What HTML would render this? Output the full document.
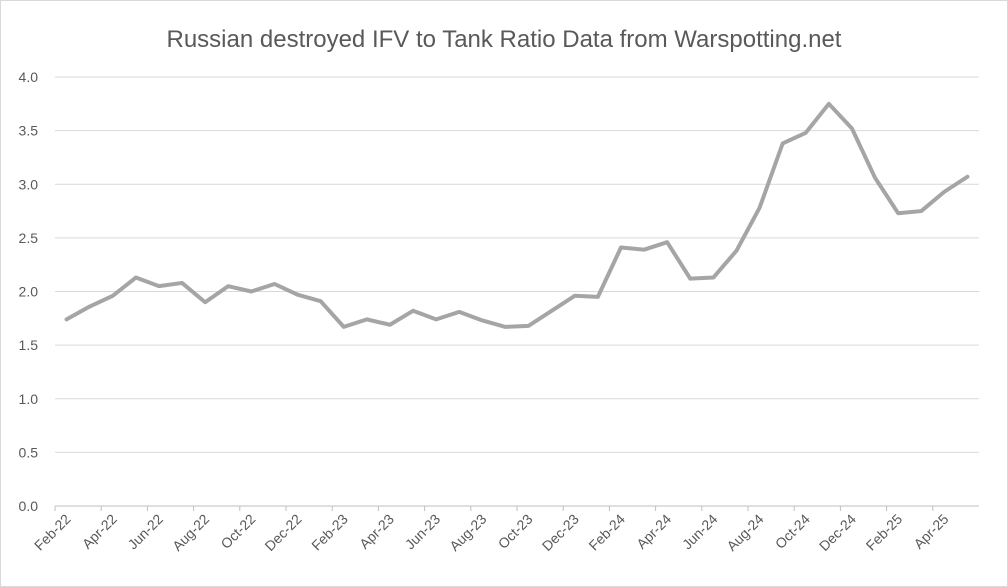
<!DOCTYPE html>
<html><head><meta charset="utf-8"><style>
body{margin:0;background:#fff}
svg{display:block;font-family:"Liberation Sans",Calibri,sans-serif}
</style></head><body>
<svg width="1008" height="587">
<rect x="0.5" y="0.5" width="1007" height="586" fill="#fff" stroke="#d9d9d9"/>
<text x="504" y="47" text-anchor="middle" font-size="24" fill="#595959">Russian destroyed IFV to Tank Ratio Data from Warspotting.net</text>
<g id="grid"></g><g id="yl"></g><g id="xl"></g><g id="ser"></g>
</svg>
<script>
const categories=["Feb-22","Mar-22","Apr-22","May-22","Jun-22","Jul-22","Aug-22","Sep-22","Oct-22","Nov-22","Dec-22","Jan-23","Feb-23","Mar-23","Apr-23","May-23","Jun-23","Jul-23","Aug-23","Sep-23","Oct-23","Nov-23","Dec-23","Jan-24","Feb-24","Mar-24","Apr-24","May-24","Jun-24","Jul-24","Aug-24","Sep-24","Oct-24","Nov-24","Dec-24","Jan-25","Feb-25","Mar-25","Apr-25","May-25"];
const ratioValues=[1.74,1.86,1.96,2.13,2.05,2.08,1.90,2.05,2.00,2.07,1.97,1.91,1.67,1.74,1.69,1.82,1.74,1.81,1.73,1.67,1.68,1.82,1.96,1.95,2.41,2.39,2.46,2.12,2.13,2.38,2.78,3.38,3.48,3.75,3.52,3.06,2.73,2.75,2.93,3.07];
const yTicks=[0,0.5,1,1.5,2,2.5,3,3.5,4];
const NS="http://www.w3.org/2000/svg";
const x0=55,x1=979,y0=506,yTop=77,yMax=4;
const bw=(x1-x0)/categories.length;
const X=i=>x0+bw*(i+0.5);
const Y=v=>y0-(v/yMax)*(y0-yTop);
function mk(t,a,p){const e=document.createElementNS(NS,t);for(const k in a)e.setAttribute(k,a[k]);p.appendChild(e);return e;}
const grid=document.getElementById('grid'),yl=document.getElementById('yl'),xl=document.getElementById('xl'),ser=document.getElementById('ser');
yTicks.forEach(v=>{
 const l=mk('line',{x1:x0,x2:x1,y1:Y(v),y2:Y(v),stroke:v===0?'#bfbfbf':'#d9d9d9','stroke-width':1},grid);
 
 
 const t=mk('text',{x:38,y:Y(v)+5,'text-anchor':'end','font-size':14,fill:'#595959'},yl);
 t.textContent=v.toFixed(1);
 
 
});
categories.forEach((c,i)=>{
 if(i%2===0){
  const tk=mk('line',{x1:x0+bw*i,x2:x0+bw*i,y1:y0,y2:y0+5,stroke:'#bfbfbf'},grid);
  
  
  const t=mk('text',{x:X(i)+5,y:y0+14,'text-anchor':'end','font-size':14,fill:'#595959',transform:`rotate(-45 ${X(i)+5} ${y0+14})`},xl);
  t.textContent=c;
  
  
 }
});
const p=mk('polyline',{points:ratioValues.map((v,i)=>X(i)+','+Y(v)).join(' '),fill:'none',stroke:'#a5a5a5','stroke-width':4,'stroke-linejoin':'round','stroke-linecap':'round'},ser);


</script>
</body></html>
